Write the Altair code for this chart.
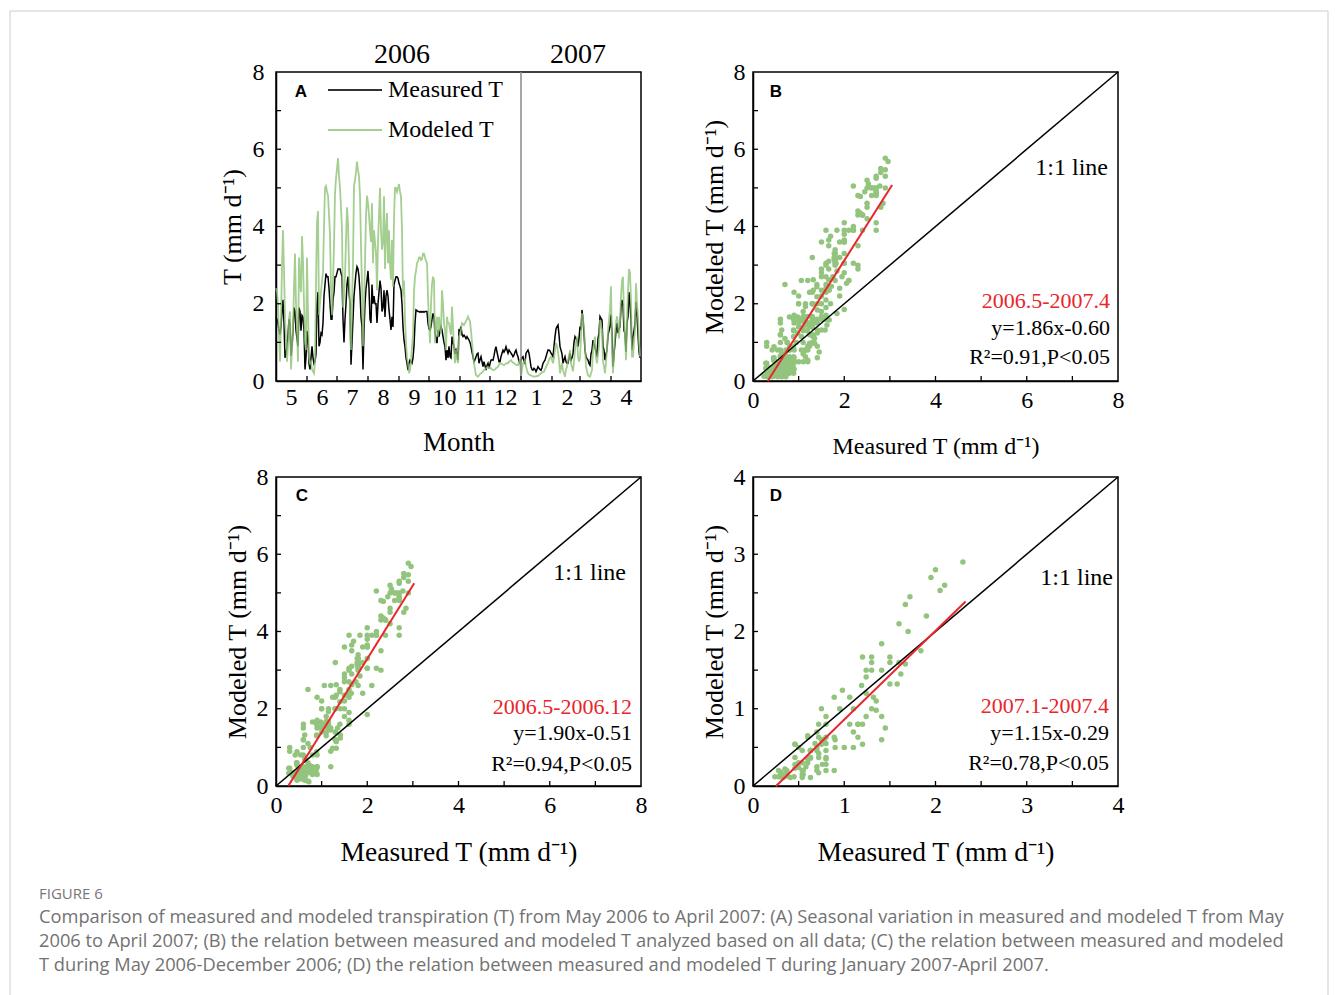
import altair as alt
import pandas as pd

SERIF = "Liberation Serif"
SANS = "Liberation Sans"
CAPTION_FONT = "Open Sans"
GREEN_PT = "#93c47d"
GREEN_LN = "#8fc275"
RED = "#e8262b"
W, H = 365, 309

# ---------------- data ----------------
MONTH_STARTS = [0, 31, 61, 92, 123, 153, 184, 214, 245, 276, 304, 335]
MONTH_LABELS = ["5", "6", "7", "8", "9", "10", "11", "12", "1", "2", "3", "4"]
YEAR_LABELS = ["2006", "2007"]
YEAR_CENTERS = [126, 302]
JAN1 = 245
SERIES = ["Measured T", "Modeled T"]

# daily values, 1 May 2006 (day 0) .. 30 Apr 2007 (day 364)
MEASURED = [
    1.65, 1.6, 1.5, 1.3, 1.2, 1.4, 1.8, 2.1, 1.5, 0.6,
    0.7, 0.9, 1.2, 1.6, 1.5, 0.65, 0.9, 1.3, 1.9, 1.8,
    1.3, 1.1, 0.9, 1.9, 1.8, 1.3, 1.7, 1.66, 1.3, 0.3,
    0.6, 1.3, 1.1, 0.45, 0.3, 0.6, 0.9, 0.6, 0.45, 0.5,
    0.7, 2.0, 2.3, 0.9, 1.0, 1.24, 1.2, 1.5, 2.2, 2.5,
    2.78, 2.7, 2.7, 2.4, 2.0, 1.6, 1.6, 2.1, 2.3, 2.7,
    2.7, 2.8, 2.9, 2.9, 2.9, 2.8, 2.7, 1.6, 1.0, 1.6,
    2.0, 2.5, 2.7, 2.3, 2.0, 0.42, 1.0, 1.6, 2.2, 2.5,
    2.8, 2.96, 2.9, 2.7, 2.3, 1.66, 1.4, 0.3, 1.3, 2.0,
    2.4, 2.6, 2.85, 2.4, 1.6, 1.5, 2.5, 2.0, 2.2, 2.0,
    2.0, 1.5, 2.0, 2.3, 2.6, 2.4, 1.8, 1.9, 2.35, 1.66,
    2.2, 2.35, 2.2, 1.84, 1.6, 1.32, 1.66, 1.4, 2.5, 2.6,
    2.7, 2.7, 2.66, 2.53, 2.45, 2.35, 2.0, 1.4, 1.06, 0.89,
    0.6, 0.46, 0.28, 0.46, 0.54, 0.5, 0.46, 0.6, 0.9, 1.5,
    1.84, 1.82, 1.8, 1.8, 1.78, 1.8, 1.78, 1.8, 1.78, 1.8,
    1.8, 1.8, 1.5, 1.35, 1.32, 1.41, 1.6, 1.75, 1.66, 1.24,
    1.1, 0.98, 1.32, 1.15, 1.3, 1.41, 1.32, 1.15, 1.0, 0.89,
    0.54, 0.8, 0.6, 0.9, 0.63, 0.6, 1.15, 1.0, 0.89, 0.7,
    0.8, 0.7, 0.54, 1.32, 1.3, 1.41, 1.2, 1.15, 1.19, 1.15,
    1.1, 1.15, 1.1, 1.06, 1.0, 0.89, 0.75, 0.63, 0.5, 0.55,
    0.63, 0.7, 0.72, 0.46, 0.55, 0.63, 0.5, 0.37, 0.5, 0.4,
    0.28, 0.4, 0.46, 0.33, 0.45, 0.54, 0.55, 0.54, 0.65, 0.8,
    0.89, 0.75, 0.63, 0.5, 0.5, 0.63, 0.72, 0.8, 0.75, 0.8,
    0.89, 0.8, 0.72, 0.8, 0.76, 0.72, 0.68, 0.63, 0.67, 0.75,
    0.8, 0.7, 0.63, 0.5, 0.46, 0.54, 0.6, 0.63, 0.5, 0.46,
    0.72, 0.76, 0.8, 0.72, 0.55, 0.37, 0.3, 0.28, 0.33, 0.3,
    0.24, 0.3, 0.37, 0.33, 0.3, 0.28, 0.35, 0.46, 0.5, 0.54,
    0.63, 0.72, 0.8, 0.8, 0.78, 0.72, 0.68, 0.63, 0.9, 1.15,
    1.35, 1.41, 1.45, 1.2, 0.89, 0.8, 0.7, 0.46, 0.55, 0.63,
    0.5, 0.46, 0.46, 0.6, 0.72, 0.54, 0.6, 0.7, 1.0, 1.15,
    1.1, 1.06, 0.89, 1.1, 1.41, 1.32, 1.84, 1.6, 1.24, 0.8,
    0.63, 0.58, 0.54, 0.45, 0.41, 0.7, 0.8, 1.06, 0.95, 0.89,
    0.75, 0.63, 1.1, 1.24, 1.67, 1.62, 1.58, 0.9, 0.8, 0.54,
    0.7, 0.8, 1.19, 1.3, 1.41, 1.72, 1.2, 0.37, 0.7, 0.98,
    1.3, 1.5, 1.24, 1.35, 1.41, 1.9, 2.1, 1.95, 1.3, 1.24,
    0.75, 1.5, 1.67, 2.3, 2.0, 1.6, 0.8, 1.15, 1.3, 1.5,
    2.05, 1.7, 1.2, 0.75, 0.6,
]
MODELED = [
    2.4, 2.3, 2.0, 1.2, 0.5, 1.6, 3.0, 3.9, 2.9, 1.6,
    1.1, 0.5, 0.9, 1.6, 1.8, 0.3, 0.8, 1.4, 2.4, 3.3,
    2.0, 1.3, 0.5, 3.2, 2.6, 2.3, 3.75, 3.1, 2.0, 1.0,
    0.8, 3.2, 1.8, 0.6, 0.46, 0.5, 0.3, 0.25, 0.2, 0.5,
    2.5, 4.1, 4.4, 1.7, 2.0, 2.3, 2.6, 2.8, 4.0, 5.0,
    5.05, 4.9, 4.8, 4.3, 3.8, 2.4, 1.7, 2.6, 3.5, 4.85,
    5.25, 5.5, 5.77, 5.3, 5.0, 4.5, 3.9, 1.9, 2.2, 2.7,
    3.65, 4.5, 4.1, 3.0, 1.85, 0.8, 2.0, 3.05, 5.05, 5.2,
    5.4, 5.68, 5.47, 5.3, 4.8, 3.5, 2.5, 0.9, 2.0, 3.05,
    4.3, 4.8, 4.6, 4.3, 3.9, 3.6, 4.6, 3.05, 3.9, 3.6,
    3.3, 2.35, 3.6, 4.3, 5.0, 3.9, 3.4, 3.6, 4.78, 2.9,
    3.9, 4.35, 3.05, 3.9, 3.0, 2.62, 3.65, 2.44, 4.2, 5.0,
    5.0, 4.9, 5.0, 5.1, 4.9, 4.78, 3.9, 2.18, 2.6, 1.6,
    1.0, 0.6, 0.46, 0.2, 0.28, 0.5, 0.89, 1.2, 2.3, 2.7,
    2.85, 3.05, 3.1, 3.2, 3.2, 3.13, 3.15, 3.3, 3.3, 3.2,
    3.1, 3.05, 2.2, 1.5, 0.98, 2.0, 2.5, 2.7, 2.62, 0.98,
    1.4, 1.66, 1.15, 1.66, 1.4, 1.24, 2.35, 2.0, 1.5, 1.32,
    0.8, 1.66, 1.5, 1.5, 1.32, 1.2, 1.93, 1.4, 0.89, 0.46,
    0.8, 0.6, 0.46, 1.15, 1.2, 1.32, 1.5, 1.48, 1.45, 1.5,
    1.55, 1.6, 1.67, 1.6, 1.55, 1.3, 1.0, 0.7, 0.46, 0.3,
    0.15, 0.13, 0.11, 0.15, 0.18, 0.2, 0.22, 0.25, 0.28, 0.3,
    0.33, 0.35, 0.37, 0.35, 0.33, 0.33, 0.3, 0.28, 0.28, 0.3,
    0.33, 0.35, 0.37, 0.42, 0.45, 0.46, 0.44, 0.42, 0.41, 0.43,
    0.45, 0.46, 0.46, 0.5, 0.52, 0.54, 0.5, 0.48, 0.46, 0.44,
    0.42, 0.41, 0.41, 0.5, 0.54, 0.11, 0.3, 0.46, 0.5, 0.54,
    0.37, 0.28, 0.2, 0.17, 0.15, 0.15, 0.13, 0.12, 0.11, 0.12,
    0.12, 0.13, 0.13, 0.15, 0.18, 0.2, 0.22, 0.23, 0.24, 0.3,
    0.36, 0.42, 0.46, 0.55, 0.6, 0.63, 0.55, 0.46, 0.6, 0.8,
    0.98, 0.9, 0.75, 0.54, 0.2, 0.35, 0.46, 0.28, 0.2, 0.11,
    0.3, 0.37, 0.54, 0.65, 0.8, 0.46, 0.35, 0.25, 0.5, 0.8,
    1.0, 1.15, 0.63, 0.5, 0.6, 1.15, 1.75, 1.6, 1.41, 0.9,
    0.37, 0.25, 0.15, 0.12, 0.11, 0.2, 0.28, 0.8, 1.0, 1.15,
    0.6, 0.46, 0.7, 0.9, 1.58, 1.45, 1.32, 0.5, 0.37, 0.2,
    0.5, 0.8, 1.3, 1.6, 1.84, 2.45, 0.8, 0.2, 0.7, 1.24,
    1.5, 1.67, 1.5, 1.1, 1.5, 2.2, 2.6, 2.7, 1.67, 1.2,
    0.54, 1.6, 2.35, 2.9, 2.8, 2.1, 0.63, 0.63, 1.0, 1.32,
    2.53, 2.0, 1.67, 1.0, 0.63,
]
DAYS = list(range(len(MEASURED)))

# fitted lines as printed on the panels (slope, intercept, x-extent)
FIT_B = {"slope": 1.86, "intercept": -0.60, "x0": 0.32, "x1": 3.05}
FIT_C = {"slope": 1.90, "intercept": -0.51, "x0": 0.27, "x1": 3.03}
FIT_D = {"slope": 1.15, "intercept": -0.29, "x0": 0.25, "x1": 2.33}
LABELS_B = ["2006.5-2007.4", "y=1.86x-0.60", "R\u00b2=0.91,P<0.05"]
LABELS_C = ["2006.5-2006.12", "y=1.90x-0.51", "R\u00b2=0.94,P<0.05"]
LABELS_D = ["2007.1-2007.4", "y=1.15x-0.29", "R\u00b2=0.78,P<0.05"]

CAPTION_HEAD = "FIGURE 6"
CAPTION_LINES = [
    "Comparison of measured and modeled transpiration (T) from May 2006 to April 2007: (A) Seasonal variation in measured and modeled T from May",
    "2006 to April 2007; (B) the relation between measured and modeled T analyzed based on all data; (C) the relation between measured and modeled",
    "T during May 2006-December 2006; (D) the relation between measured and modeled T during January 2007-April 2007.",
]

Y_TITLE_T = "T (mm d\u207b\u00b9)"
Y_TITLE_MOD = "Modeled T (mm d\u207b\u00b9)"
X_TITLE_MEAS = "Measured T (mm d\u207b\u00b9)"


# ---------------- helpers ----------------
def xenc(domain, values, title, tsize, tpad, lpad=7, **extra):
    ax = dict(values=values, title=title, titleFontSize=tsize, titlePadding=tpad,
              labelFontSize=24, labelPadding=lpad)
    ax.update(extra)
    return alt.X("x:Q", scale=alt.Scale(domain=domain, nice=False, zero=False),
                 axis=alt.Axis(**ax))


def yenc(domain, values, title, tsize, tpad, lpad=8):
    return alt.Y("y:Q", scale=alt.Scale(domain=domain, nice=False, zero=False),
                 axis=alt.Axis(values=values, title=title, titleFontSize=tsize,
                               titlePadding=tpad, labelFontSize=24, labelPadding=lpad))


def tick_layers(X, Y, xt, yt):
    xr = alt.Chart(pd.DataFrame({"x": xt})).mark_rule(color="black", strokeWidth=1.3).encode(
        x=X, y=alt.value(H), y2=alt.value(H - 5))
    yr = alt.Chart(pd.DataFrame({"y": yt})).mark_rule(color="black", strokeWidth=1.3).encode(
        y=Y, x=alt.value(0), x2=alt.value(5))
    return [xr, yr]


def label_text(txt, x, y, size=22, color="black", font=SERIF, align="right", weight="normal"):
    return alt.Chart(pd.DataFrame({"t": [txt]})).mark_text(
        font=font, fontSize=size, color=color, align=align, baseline="middle",
        fontWeight=weight).encode(x=alt.value(x), y=alt.value(y), text="t:N")


def scatter_panel(meas, mod, X, Y, lim, fit, letter, labels, pos, xt, yt, extra=None):
    pts = alt.Chart(pd.DataFrame({"x": meas, "y": mod})).mark_circle(
        size=30, color=GREEN_PT, opacity=1).encode(x=X, y=Y)
    one = alt.Chart(pd.DataFrame({"x": [0, lim], "y": [0, lim]})).mark_line(
        color="black", strokeWidth=1.5).encode(x=X, y=Y)
    fx = [fit["x0"], fit["x1"]]
    fy = [fit["slope"] * v + fit["intercept"] for v in fx]
    red = alt.Chart(pd.DataFrame({"x": fx, "y": fy})).mark_line(
        color=RED, strokeWidth=2).encode(x=X, y=Y)
    (lx, ly), ox, oys = pos
    layers = [pts, one, red] + tick_layers(X, Y, xt, yt)
    layers.append(label_text(letter, lx, ly, size=17, font=SANS, align="center", weight="bold"))
    layers.append(label_text("1:1 line", ox[0], oys[0], size=24))
    layers.append(label_text(labels[0], ox[1], oys[1], color=RED))
    layers.append(label_text(labels[1], ox[1], oys[2]))
    layers.append(label_text(labels[2], ox[1], oys[3]))
    if extra:
        layers += extra
    return alt.layer(*layers).properties(width=W, height=H)


# ---------------- panel A ----------------
lexpr = ("[" + ",".join("'%s'" % m for m in MONTH_LABELS) + "][indexof(["
         + ",".join(str(v) for v in MONTH_STARTS) + "], datum.value)]")
XA = xenc([0, 365], MONTH_STARTS, "Month", 27, 20, lpad=4, labelExpr=lexpr, labelOffset=15)
YA = yenc([0, 8], [0, 2, 4, 6, 8], Y_TITLE_T, 26, 7, lpad=12)

color_scale = alt.Scale(domain=SERIES, range=["black", GREEN_LN])
legend = alt.Legend(title=None, orient="none", legendX=51, legendY=-10, symbolType="stroke",
                    symbolSize=2916, symbolStrokeWidth=2, labelFont=SERIF, labelFontSize=24,
                    labelColor="black", labelOffset=5, rowPadding=-10, padding=0)
COLOR = alt.Color("s:N", scale=color_scale, legend=legend)

meas_line = alt.Chart(pd.DataFrame({"x": DAYS, "y": MEASURED, "s": SERIES[0]})).mark_line(
    strokeWidth=1.5).encode(x=XA, y=YA, color=COLOR)
mod_line = alt.Chart(pd.DataFrame({"x": DAYS, "y": MODELED, "s": SERIES[1]})).mark_line(
    strokeWidth=1.8, opacity=0.8).encode(x=XA, y=YA, color=COLOR)
jan_rule = alt.Chart(pd.DataFrame({"x": [JAN1]})).mark_rule(color="#8a8a8a", strokeWidth=1.5).encode(x=XA)
years = alt.Chart(pd.DataFrame({"x": YEAR_CENTERS, "t": YEAR_LABELS})).mark_text(
    font=SERIF, fontSize=28, baseline="middle").encode(x=XA, y=alt.value(-17), text="t:N")

# light grey figure frame (decoration, page pixels relative to panel A origin)
frame = [
    alt.Chart(pd.DataFrame({"t": [0]})).mark_rule(color="#cccccc", strokeWidth=1).encode(
        x=alt.value(-266), x2=alt.value(1052), y=alt.value(-61)),
    alt.Chart(pd.DataFrame({"t": [0]})).mark_rule(color="#cccccc", strokeWidth=1).encode(
        x=alt.value(-266), y=alt.value(-61), y2=alt.value(925)),
    alt.Chart(pd.DataFrame({"t": [0]})).mark_rule(color="#cccccc", strokeWidth=1).encode(
        x=alt.value(1052), y=alt.value(-61), y2=alt.value(925)),
]

panelA = alt.layer(
    *frame, meas_line, mod_line, jan_rule, years,
    *tick_layers(XA, YA, MONTH_STARTS[1:], [1, 2, 3, 4, 5, 6, 7]),
    label_text("A", 25, 20, size=17, font=SANS, align="center", weight="bold"),
).properties(width=W, height=H)

# ---------------- scatter panels ----------------
split = sum(1 for d in DAYS if d < JAN1)
meas_c, mod_c = MEASURED[:split], MODELED[:split]
meas_d, mod_d = MEASURED[split:], MODELED[split:]

XB = xenc([0, 8], [0, 2, 4, 6, 8], X_TITLE_MEAS, 24, 22)
YB = yenc([0, 8], [0, 2, 4, 6, 8], Y_TITLE_MOD, 26, 6)
panelB = scatter_panel(MEASURED, MODELED, XB, YB, 8, FIT_B, "B", LABELS_B,
                       ((23, 20), (355, 357), (96, 229, 256, 285)),
                       [1, 2, 3, 4, 5, 6, 7], [1, 2, 3, 4, 5, 6, 7])

XC = xenc([0, 8], [0, 2, 4, 6, 8], X_TITLE_MEAS, 27.5, 21)
YC = yenc([0, 8], [0, 2, 4, 6, 8], Y_TITLE_MOD, 26, 6)
caption = [
    alt.Chart(pd.DataFrame({"t": [CAPTION_HEAD]})).mark_text(
        font=CAPTION_FONT, fontSize=15, color="#777777", align="left", baseline="middle").encode(
        x=alt.value(-237), y=alt.value(417), text="t:N"),
]
for i, line in enumerate(CAPTION_LINES):
    caption.append(alt.Chart(pd.DataFrame({"t": [line]})).mark_text(
        font=CAPTION_FONT, fontSize=18.3, color="#727272", align="left", baseline="middle").encode(
        x=alt.value(-237), y=alt.value(441 + 24 * i), text="t:N"))
panelC = scatter_panel(meas_c, mod_c, XC, YC, 8, FIT_C, "C", LABELS_C,
                       ((26, 19), (350, 356), (96, 230, 256, 287)),
                       [1, 2, 3, 4, 5, 6, 7], [1, 2, 3, 4, 5, 6, 7], extra=caption)

XD = xenc([0, 4], [0, 1, 2, 3, 4], X_TITLE_MEAS, 27.5, 21)
YD = yenc([0, 4], [0, 1, 2, 3, 4], Y_TITLE_MOD, 26, 6)
half = [0.5, 1, 1.5, 2, 2.5, 3, 3.5]
panelD = scatter_panel(meas_d, mod_d, XD, YD, 4, FIT_D, "D", LABELS_D,
                       ((23, 19), (360, 356), (101, 229, 256, 286)), half, half)

chart = alt.concat(
    panelA, panelB, panelC, panelD, columns=2,
    spacing={"row": 96, "column": 112}, bounds="flush",
).properties(
    padding={"left": 8, "top": 9, "right": 0, "bottom": 0},
    background="white",
).configure_view(
    stroke="black", strokeWidth=1.5,
).configure_axis(
    labelFont=SERIF, titleFont=SERIF, labelColor="black", titleColor="black",
    titleFontWeight="normal", domainColor="black", domainWidth=1.5, ticks=False,
    grid=False, labelFlush=False, labelOverlap=False,
)

chart.save("out.html", embed_options={"renderer": "svg", "actions": False})
